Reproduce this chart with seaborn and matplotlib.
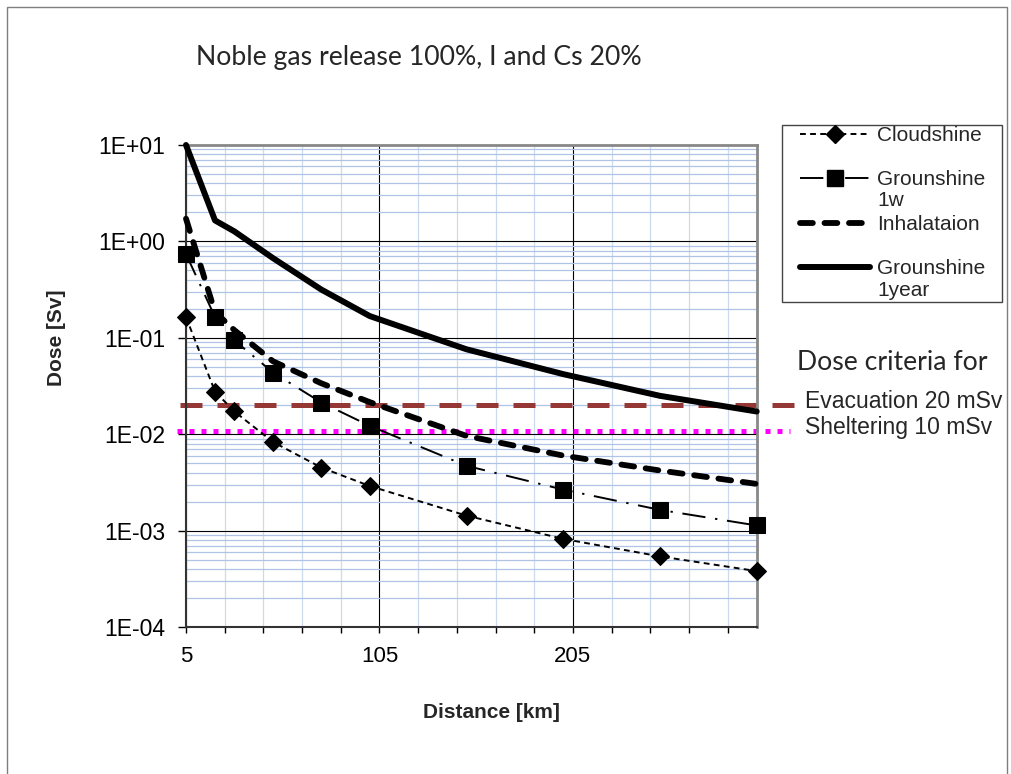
import numpy as np
import pandas as pd
import matplotlib
matplotlib.use("Agg")
import matplotlib.pyplot as plt
import seaborn as sns
from matplotlib.ticker import FixedLocator, LogLocator, NullFormatter, FixedFormatter
from matplotlib.lines import Line2D
from matplotlib.patches import Rectangle

# ---------------- data ----------------
distance_km = [5, 20, 30, 50, 75, 100, 150, 200, 250, 300]
cloudshine = [0.164, 0.0277, 0.0172, 0.0083, 0.0045, 0.0029, 0.00143, 0.00082, 0.00054, 0.00038]
groundshine_1w = [0.74, 0.164, 0.094, 0.0436, 0.0213, 0.0122, 0.0047, 0.00266, 0.00164, 0.00113]
inhalation = [1.72, 0.185, 0.12, 0.057, 0.0337, 0.0215, 0.0096, 0.0060, 0.0042, 0.00305]
groundshine_1y = [10.0, 1.65, 1.27, 0.67, 0.316, 0.168, 0.076, 0.042, 0.025, 0.0172]
evacuation_sv = 0.02
sheltering_sv = 0.0108

legend_first_lines = ["Cloudshine", "Grounshine", "Inhalataion", "Grounshine"]
legend_second_lines = ["1w", "1year"]
x_tick_labels = ["5", "105", "205"]
y_tick_labels = ["1E-04", "1E-03", "1E-02", "1E-01", "1E+00", "1E+01"]

df = pd.DataFrame({
    "Distance": distance_km,
    "Cloudshine": cloudshine,
    "Groundshine1w": groundshine_1w,
    "Inhalation": inhalation,
    "Groundshine1y": groundshine_1y,
})

sns.set_style("white")
plt.rcParams["font.family"] = ["Liberation Sans", "DejaVu Sans"]

W, H = 1012, 774
fig = plt.figure(figsize=(W / 100, H / 100), dpi=100)
ax_l, ax_r, ax_t, ax_b = 186, 756.7, 145, 627
ax = fig.add_axes([ax_l / W, 1 - ax_b / H, (ax_r - ax_l) / W, (ax_b - ax_t) / H])

ax.set_yscale("log")
ax.set_xlim(5, 300)
ax.set_ylim(1e-4, 10)

# grid / ticks
major_x = [5, 105, 205]
minor_x = list(range(25, 300, 20))
ax.xaxis.set_major_locator(FixedLocator(major_x))
ax.xaxis.set_major_formatter(FixedFormatter(x_tick_labels))
ax.xaxis.set_minor_locator(FixedLocator([v for v in minor_x if v not in major_x]))
ax.yaxis.set_major_locator(FixedLocator([1e-4, 1e-3, 1e-2, 1e-1, 1, 10]))
ax.yaxis.set_major_formatter(FixedFormatter(y_tick_labels))
ax.yaxis.set_minor_locator(LogLocator(base=10, subs=np.arange(2, 10)))
ax.yaxis.set_minor_formatter(NullFormatter())

ax.grid(False)
ax.xaxis.grid(True, which="major", color="black", lw=0.8)
ax.yaxis.grid(True, which="major", color="black", lw=0.8)
ax.xaxis.grid(True, which="minor", color="#CDDAEE", lw=0.9)
ax.yaxis.grid(True, which="minor", color="#AFC4E4", lw=0.9)
ax.set_axisbelow(True)

ax.tick_params(axis="x", which="major", direction="out", length=4, width=1, colors="black",
               labelsize=16, pad=10, bottom=True)
ax.tick_params(axis="x", which="minor", direction="out", length=4, width=1, color="black", bottom=True)
ax.tick_params(axis="y", which="major", direction="out", length=6, width=1, colors="black",
               labelsize=16.5, pad=9, left=True)
ax.tick_params(axis="y", which="minor", length=0)

for s in ["left", "bottom"]:
    ax.spines[s].set_color("#333333")
    ax.spines[s].set_linewidth(1.5)
for s in ["top", "right"]:
    ax.spines[s].set_color("#888888")
    ax.spines[s].set_linewidth(2)

# criteria lines (extend outside the plot area like the reference)
x0 = (180 - ax_l) / (ax_r - ax_l)
x1e = (797 - ax_l) / (ax_r - ax_l)
x1s = (790 - ax_l) / (ax_r - ax_l)
ax.axhline(evacuation_sv, xmin=x0, xmax=x1e, color="#953735", lw=3.6,
           linestyle=(0, (4.4, 3.0)), clip_on=False, zorder=2)
ax.axhline(sheltering_sv, xmin=x0 - 0.006, xmax=x1s, color="#FF00FF", lw=3.6,
           linestyle=(0, (1.0, 1.4)), dash_capstyle="butt", clip_on=False, zorder=2)

# series
cs_style = dict(color="black", lw=1.4, linestyle=(0, (3.0, 2.2)), marker="D", markersize=9,
                markerfacecolor="black", markeredgecolor="black")
g1w_style = dict(color="black", lw=1.4, linestyle=(0, (12, 5, 1.2, 5)), marker="s", markersize=11,
                 markerfacecolor="black", markeredgecolor="black")
inh_style = dict(color="black", lw=4.2, linestyle=(0, (2.2, 2.0)), dash_capstyle="round")
g1y_style = dict(color="black", lw=4.3, linestyle="-", solid_capstyle="round")

sns.lineplot(data=df, x="Distance", y="Cloudshine", ax=ax, zorder=4, **cs_style)
sns.lineplot(data=df, x="Distance", y="Groundshine1w", ax=ax, zorder=4, **g1w_style)
sns.lineplot(data=df, x="Distance", y="Inhalation", ax=ax, zorder=3, **inh_style)
sns.lineplot(data=df, x="Distance", y="Groundshine1y", ax=ax, zorder=3, **g1y_style)
for ln in ax.lines:
    ln.set_clip_on(False)

ax.set_xlabel("Distance [km]", fontsize=15, fontweight="bold")
ax.set_ylabel("Dose [Sv]", fontsize=15, fontweight="bold")
ax.xaxis.set_label_coords((491 - ax_l) / (ax_r - ax_l), -(713 - ax_b) / (ax_b - ax_t))
ax.xaxis.label.set_va("center")
ax.yaxis.set_label_coords((57 - ax_l) / (ax_r - ax_l), (ax_b - 338) / (ax_b - ax_t))
ax.yaxis.label.set_va("center")

# legend (frame drawn separately, second label lines as extra text like the reference)
handles = [Line2D([], [], **cs_style), Line2D([], [], **g1w_style),
           Line2D([], [], **inh_style), Line2D([], [], **g1y_style)]
leg = fig.legend(handles, legend_first_lines, loc="upper left",
                 bbox_to_anchor=(800 / W, 1 - 126 / H), bbox_transform=fig.transFigure,
                 borderaxespad=0, borderpad=0, fontsize=15, frameon=False,
                 handlelength=3.35, handletextpad=0.33, labelspacing=1.22, numpoints=1)
fig.patches.append(Rectangle((782 / W, 1 - 302 / H), 220 / W, 177 / H, transform=fig.transFigure,
                             fill=False, edgecolor="#444444", lw=1.0))
fig.text(877 / W, 1 - 200 / H, legend_second_lines[0], fontsize=15, ha="left", va="center")
fig.text(877 / W, 1 - 290 / H, legend_second_lines[1], fontsize=15, ha="left", va="center")

# texts
fig.text(196 / W, 1 - 57 / H, "Noble gas release 100%, I and Cs 20%", fontsize=19.2,
         family=["Lato", "DejaVu Sans"], ha="left", va="center")
fig.text(797 / W, 1 - 362 / H, "Dose criteria for", fontsize=19.2,
         family=["Lato", "DejaVu Sans"], ha="left", va="center")
fig.text(805 / W, 1 - 402 / H, "Evacuation 20 mSv", fontsize=16.5, ha="left", va="center")
fig.text(805 / W, 1 - 428 / H, "Sheltering 10 mSv", fontsize=16.5, ha="left", va="center")

# outer frame
fig.patches.append(Rectangle((7 / W, -0.02), 1000 / W, 1 - 7 / H + 0.02, transform=fig.transFigure,
                             fill=False, edgecolor="#7F7F7F", lw=1.0))

fig.savefig("out.png", dpi=100)
